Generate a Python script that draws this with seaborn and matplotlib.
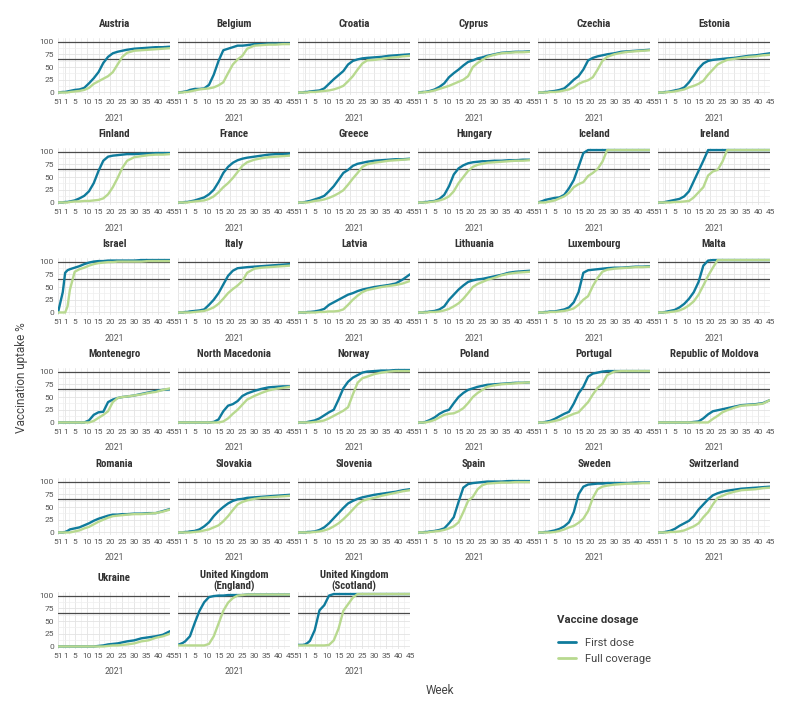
import numpy as np
import pandas as pd
import matplotlib
matplotlib.use("Agg")
import matplotlib.pyplot as plt
from matplotlib.lines import Line2D
from matplotlib.ticker import FixedLocator, MultipleLocator
import seaborn as sns

# ISO weeks sampled from the chart (2020-W51 .. 2021-W45)
WEEK_YEAR = [2020, 2020] + [2021] * 21
WEEK_NUM = [51, 53, 1, 2, 3, 5, 7, 9, 11, 13, 15, 17, 19, 21, 23, 25, 27, 30, 33, 36, 39, 42, 45]
TICK_WEEKS = [51, 1, 5, 10, 15, 20, 25, 30, 35, 40, 45]

COUNTRIES = [
    "Austria", "Belgium", "Croatia", "Cyprus", "Czechia", "Estonia",
    "Finland", "France", "Greece", "Hungary", "Iceland", "Ireland",
    "Israel", "Italy", "Latvia", "Lithuania", "Luxembourg", "Malta",
    "Montenegro", "North Macedonia", "Norway", "Poland", "Portugal", "Republic of Moldova",
    "Romania", "Slovakia", "Slovenia", "Spain", "Sweden", "Switzerland",
    "Ukraine", "United Kingdom\n(England)", "United Kingdom\n(Scotland)",
]

FIRST_DOSE = {
    "Austria": [0, 1, 1, 2, 3, 5, 6, 9, 18, 28, 40, 58, 70, 77, 80, 82, 84, 86, 87, 88, 89, 89, 90],
    "Belgium": [0, 1, 2, 3, 5, 7, 7, 8, 15, 35, 62, 83, 86, 89, 92, 92, 93, 95, 95, 96, 96, 96, 96],
    "Croatia": [0, 0, 1, 1, 2, 3, 4, 8, 17, 26, 34, 42, 55, 62, 65, 67, 68, 69, 70, 72, 73, 74, 75],
    "Cyprus": [0, 1, 1, 2, 3, 6, 11, 18, 30, 38, 45, 53, 60, 63, 67, 69, 72, 75, 78, 79, 80, 80, 81],
    "Czechia": [0, 0, 1, 1, 2, 3, 5, 8, 16, 25, 32, 45, 63, 68, 71, 73, 75, 77, 80, 81, 82, 83, 84],
    "Estonia": [0, 0, 1, 1, 2, 4, 6, 10, 20, 33, 47, 57, 62, 64, 65, 66, 67, 68, 70, 72, 73, 75, 77],
    "Finland": [0, 0, 1, 1, 2, 4, 8, 13, 22, 38, 62, 82, 90, 92, 93, 94, 95, 95, 96, 96, 97, 97, 97],
    "France": [0, 0, 1, 1, 2, 4, 7, 10, 16, 25, 40, 58, 70, 78, 83, 86, 88, 90, 92, 94, 95, 95, 96],
    "Greece": [0, 0, 1, 2, 3, 6, 9, 13, 22, 32, 45, 58, 64, 72, 76, 78, 80, 82, 83, 84, 85, 85, 86],
    "Hungary": [0, 0, 1, 1, 2, 3, 7, 15, 32, 55, 67, 73, 77, 79, 80, 81, 81, 82, 82, 83, 83, 84, 84],
    "Iceland": [0, 3, 5, 6, 7, 9, 10, 15, 28, 44, 70, 97, 103, 103, 103, 103, 103, 103, 103, 103, 103, 103, 103],
    "Ireland": [0, 0, 1, 2, 3, 5, 7, 12, 22, 42, 62, 82, 103, 103, 103, 103, 103, 103, 103, 103, 103, 103, 103],
    "Israel": [0, 40, 78, 83, 85, 88, 91, 95, 98, 100, 101, 101, 102, 102, 102, 102, 102, 102, 103, 103, 103, 103, 103],
    "Italy": [0, 0, 1, 1, 2, 3, 4, 6, 15, 25, 38, 55, 72, 82, 87, 88, 89, 90, 91, 92, 93, 94, 95],
    "Latvia": [0, 0, 0, 1, 1, 2, 4, 7, 15, 20, 25, 30, 35, 38, 42, 45, 47, 50, 52, 54, 57, 65, 75],
    "Lithuania": [0, 0, 1, 1, 2, 3, 6, 12, 25, 35, 45, 53, 60, 63, 65, 66, 68, 71, 74, 78, 80, 81, 82],
    "Luxembourg": [0, 0, 1, 1, 2, 2, 4, 6, 10, 20, 40, 78, 83, 84, 85, 86, 87, 88, 88, 89, 90, 90, 91],
    "Malta": [0, 0, 1, 2, 3, 5, 10, 17, 27, 40, 60, 92, 102, 103, 103, 103, 103, 103, 103, 103, 103, 103, 103],
    "Montenegro": [0, 0, 0, 0, 0, 0, 0, 0, 4, 15, 20, 21, 40, 45, 48, 50, 51, 53, 56, 59, 62, 64, 65],
    "North Macedonia": [0, 0, 0, 0, 0, 0, 0, 0, 0, 1, 6, 22, 33, 36, 42, 52, 57, 62, 66, 69, 70, 71, 71],
    "Norway": [0, 0, 0, 1, 2, 4, 8, 14, 20, 25, 45, 67, 80, 88, 93, 98, 100, 101, 102, 102, 103, 103, 103],
    "Poland": [0, 0, 1, 3, 5, 10, 17, 22, 25, 38, 50, 58, 64, 67, 70, 72, 74, 75, 76, 77, 78, 78, 79],
    "Portugal": [0, 0, 1, 2, 3, 7, 12, 17, 21, 37, 57, 70, 90, 96, 98, 100, 101, 101, 101, 101, 101, 101, 101],
    "Republic of Moldova": [0, 0, 0, 0, 0, 0, 0, 0, 0, 1, 2, 8, 16, 22, 24, 26, 28, 31, 34, 35, 36, 38, 44],
    "Romania": [0, 0, 1, 3, 6, 8, 10, 14, 18, 23, 27, 30, 33, 35, 35, 36, 36, 37, 37, 38, 38, 42, 46],
    "Slovakia": [0, 0, 1, 1, 2, 3, 6, 12, 20, 32, 42, 50, 57, 62, 65, 66, 68, 69, 70, 71, 72, 73, 74],
    "Slovenia": [0, 0, 0, 1, 1, 2, 5, 10, 18, 28, 38, 48, 57, 62, 66, 69, 71, 74, 76, 78, 80, 83, 85],
    "Spain": [0, 0, 1, 1, 2, 3, 5, 8, 18, 30, 60, 88, 95, 97, 98, 99, 100, 100, 100, 101, 101, 101, 101],
    "Sweden": [0, 0, 1, 1, 2, 4, 7, 12, 20, 40, 75, 90, 94, 95, 96, 96, 97, 97, 97, 97, 98, 98, 98],
    "Switzerland": [0, 0, 1, 2, 3, 7, 13, 18, 23, 32, 45, 55, 65, 73, 77, 80, 82, 84, 86, 87, 88, 89, 90],
    "Ukraine": [0, 0, 0, 0, 0, 0, 0, 0, 0, 0, 1, 2, 4, 5, 6, 8, 10, 12, 16, 18, 20, 23, 30],
    "United Kingdom\n(England)": [3, 7, 10, 15, 20, 46, 70, 87, 97, 99, 100, 100, 101, 101, 101, 101, 102, 102, 102, 102, 102, 102, 102],
    "United Kingdom\n(Scotland)": [3, 3, 4, 7, 11, 32, 71, 81, 100, 103, 103, 103, 103, 103, 103, 103, 103, 103, 103, 103, 103, 103, 103],
}

FULL_COVERAGE = {
    "Austria": [0, 0, 0, 0, 1, 2, 3, 5, 9, 17, 22, 27, 32, 40, 55, 70, 78, 82, 83, 84, 85, 86, 87],
    "Belgium": [0, 0, 1, 1, 2, 4, 6, 7, 8, 10, 14, 20, 38, 55, 65, 72, 86, 92, 93, 94, 94, 95, 95],
    "Croatia": [0, 0, 0, 0, 1, 1, 2, 3, 4, 6, 9, 13, 22, 32, 45, 57, 63, 64, 66, 68, 69, 71, 72],
    "Cyprus": [0, 0, 1, 1, 2, 4, 7, 10, 13, 17, 21, 25, 32, 50, 58, 64, 70, 74, 77, 78, 79, 79, 80],
    "Czechia": [0, 0, 0, 0, 1, 1, 2, 4, 6, 10, 17, 21, 24, 30, 45, 62, 70, 75, 78, 80, 81, 82, 83],
    "Estonia": [0, 0, 0, 1, 1, 2, 4, 6, 10, 13, 17, 23, 35, 45, 55, 60, 64, 66, 68, 70, 71, 73, 74],
    "Finland": [0, 0, 0, 0, 1, 2, 2, 3, 3, 4, 5, 8, 16, 30, 48, 68, 82, 89, 91, 93, 94, 94, 95],
    "France": [0, 0, 0, 0, 1, 2, 3, 4, 7, 12, 20, 30, 38, 48, 60, 72, 79, 84, 87, 89, 90, 91, 92],
    "Greece": [0, 0, 0, 0, 1, 3, 4, 6, 9, 13, 18, 24, 35, 47, 58, 70, 75, 78, 80, 82, 83, 84, 85],
    "Hungary": [0, 0, 0, 0, 1, 2, 4, 7, 12, 22, 38, 50, 62, 70, 74, 76, 78, 79, 80, 81, 82, 82, 83],
    "Iceland": [0, 0, 0, 1, 2, 4, 8, 12, 19, 30, 36, 40, 52, 58, 66, 80, 103, 103, 103, 103, 103, 103, 103],
    "Ireland": [0, 0, 0, 0, 0, 1, 1, 2, 3, 10, 20, 30, 53, 61, 64, 80, 103, 103, 103, 103, 103, 103, 103],
    "Israel": [0, 0, 0, 12, 45, 80, 85, 88, 92, 95, 97, 98, 99, 99, 100, 100, 100, 100, 100, 101, 101, 101, 101],
    "Italy": [0, 0, 0, 0, 0, 1, 2, 3, 6, 10, 17, 27, 38, 46, 53, 62, 78, 86, 88, 89, 90, 91, 92],
    "Latvia": [0, 0, 0, 0, 0, 0, 1, 1, 2, 2, 3, 6, 15, 25, 33, 40, 44, 47, 50, 52, 54, 57, 62],
    "Lithuania": [0, 0, 0, 0, 1, 1, 2, 4, 7, 12, 18, 27, 38, 50, 56, 60, 64, 68, 73, 76, 78, 79, 80],
    "Luxembourg": [0, 0, 0, 0, 1, 1, 2, 3, 5, 8, 15, 25, 32, 52, 68, 80, 84, 86, 87, 88, 89, 89, 90],
    "Malta": [0, 0, 0, 0, 1, 2, 4, 8, 14, 22, 35, 53, 72, 88, 103, 103, 103, 103, 103, 103, 103, 103, 103],
    "Montenegro": [0, 0, 0, 0, 0, 0, 0, 0, 0, 3, 9, 15, 22, 40, 48, 50, 51, 53, 55, 58, 60, 64, 67],
    "North Macedonia": [0, 0, 0, 0, 0, 0, 0, 0, 0, 0, 0, 2, 8, 17, 25, 35, 45, 52, 58, 63, 66, 68, 70],
    "Norway": [0, 0, 0, 0, 0, 1, 2, 4, 8, 13, 18, 23, 30, 55, 78, 87, 90, 95, 98, 100, 101, 101, 101],
    "Poland": [0, 0, 0, 1, 2, 5, 10, 15, 17, 18, 22, 28, 38, 50, 58, 64, 70, 73, 75, 76, 77, 78, 79],
    "Portugal": [0, 0, 0, 0, 1, 3, 5, 9, 13, 17, 20, 30, 40, 55, 68, 76, 93, 100, 101, 101, 101, 101, 101],
    "Republic of Moldova": [0, 0, 0, 0, 0, 0, 0, 0, 0, 0, 0, 0, 0, 7, 13, 20, 24, 29, 33, 34, 35, 37, 44],
    "Romania": [0, 0, 0, 0, 0, 2, 4, 8, 11, 16, 21, 25, 29, 32, 33, 34, 35, 36, 36, 37, 38, 41, 45],
    "Slovakia": [0, 0, 0, 0, 0, 1, 2, 4, 6, 10, 14, 22, 32, 44, 55, 60, 63, 66, 68, 69, 70, 71, 72],
    "Slovenia": [0, 0, 0, 0, 0, 1, 2, 4, 7, 12, 18, 26, 35, 45, 55, 62, 65, 68, 72, 75, 78, 81, 83],
    "Spain": [0, 0, 0, 0, 1, 2, 3, 5, 8, 12, 20, 40, 62, 70, 85, 93, 96, 97, 98, 98, 99, 99, 99],
    "Sweden": [0, 0, 0, 0, 0, 1, 3, 6, 10, 13, 19, 27, 42, 68, 85, 90, 92, 94, 95, 96, 96, 97, 97],
    "Switzerland": [0, 0, 0, 0, 1, 1, 2, 4, 8, 12, 18, 30, 40, 55, 68, 72, 76, 80, 83, 84, 85, 87, 88],
    "Ukraine": [0, 0, 0, 0, 0, 0, 0, 0, 0, 0, 0, 0, 1, 2, 2, 3, 4, 6, 10, 12, 17, 20, 25],
    "United Kingdom\n(England)": [2, 2, 2, 2, 2, 2, 2, 2, 5, 20, 45, 70, 86, 95, 100, 101, 102, 102, 102, 102, 102, 102, 102],
    "United Kingdom\n(Scotland)": [2, 2, 2, 2, 2, 2, 2, 2, 3, 12, 35, 70, 83, 96, 103, 103, 103, 103, 103, 103, 103, 103, 103],
}

DOSES = ["First dose", "Full coverage"]
BLUE = "#0f7b9c"
GREEN = "#b8d98f"
REF_LINES = [100, 65]


def week_pos(year, week):
    # 2020 weeks placed just before 2021-W01 (2020 had 53 ISO weeks)
    return week - 53 if year == 2020 else week


pos = [week_pos(y, w) for y, w in zip(WEEK_YEAR, WEEK_NUM)]
rows = []
for c in COUNTRIES:
    for dose, series in zip(DOSES, [FIRST_DOSE, FULL_COVERAGE]):
        for p, v in zip(pos, series[c]):
            rows.append({"country": c, "dose": dose, "week": p, "uptake": v})
df = pd.DataFrame(rows)

sns.set_theme(style="white")
plt.rcParams["font.family"] = ["Roboto", "DejaVu Sans"]

g = sns.relplot(
    data=df, x="week", y="uptake", hue="dose", hue_order=DOSES,
    col="country", col_order=COUNTRIES, col_wrap=6, kind="line",
    palette=[BLUE, GREEN], linewidth=1.7, errorbar=None, legend=False,
    height=1.0, aspect=1.4, facet_kws=dict(sharex=True, sharey=True),
)
fig = g.figure
fig.set_size_inches(7.98, 7.08)

tick_pos = [week_pos(2020 if w > 45 else 2021, w) for w in TICK_WEEKS]
title_font = ["Liberation Sans Narrow", "Roboto Condensed", "Roboto", "DejaVu Sans"]

for i, (ax, c) in enumerate(zip(g.axes.flat, COUNTRIES)):
    for ref in REF_LINES:
        ax.axhline(ref, color="#4a4a4a", lw=0.9, zorder=1)
    ax.set_xlim(-2, 45)
    ax.set_ylim(-5, 107)
    ax.xaxis.set_major_locator(FixedLocator(tick_pos))
    ax.set_xticklabels([str(w) for w in TICK_WEEKS])
    ax.xaxis.set_minor_locator(MultipleLocator(2.5))
    ax.set_yticks([0, 25, 50, 75, 100])
    ax.yaxis.set_minor_locator(MultipleLocator(12.5))
    ax.grid(which="major", color="#e3e3e3", lw=0.6, zorder=0)
    ax.grid(which="minor", color="#efefef", lw=0.5, zorder=0)
    ax.set_axisbelow(True)
    ax.tick_params(which="both", length=0, labelsize=6.0, colors="#555555",
                   labelbottom=True, labelleft=(i % 6 == 0), pad=3)
    ax.set_xlabel("2021", fontsize=6.2, color="#555555", labelpad=6)
    ax.set_ylabel("")
    two_line = "\n" in c
    ax.set_title(c, fontsize=7.8, fontweight="bold", color="#333333",
                 family=title_font, pad=2 if two_line else 8, linespacing=1.0)
    for s in ax.spines.values():
        s.set_visible(False)

fig.subplots_adjust(left=0.0727, right=0.965, top=0.9463, bottom=0.089,
                    wspace=0.0714, hspace=0.93)

# last row sits a little lower in the reference (two-line titles)
for ax in g.axes.flat[30:]:
    b = ax.get_position()
    ax.set_position([b.x0, b.y0 - 4 / 708, b.width, b.height])

fig.text(22 / 798, 1 - 378 / 708, "Vaccination uptake %", rotation=90,
         ha="center", va="center", fontsize=8.5, color="#444444")
fig.text(440 / 798, 1 - 690 / 708, "Week", ha="center", va="center",
         fontsize=8.5, color="#444444")

fig.text(557 / 798, 1 - 620 / 708, "Vaccine dosage", ha="left", va="center",
         fontsize=8.2, fontweight="bold", color="#333333")
handles = [Line2D([0], [0], color=col, lw=2) for col in [BLUE, GREEN]]
leg = fig.legend(handles, DOSES, loc="upper left",
                 bbox_to_anchor=(548 / 798, 1 - 628 / 708), frameon=False,
                 fontsize=8, handlelength=1.6, labelspacing=0.5)
for t in leg.get_texts():
    t.set_color("#444444")

fig.savefig("out.png", dpi=100)
